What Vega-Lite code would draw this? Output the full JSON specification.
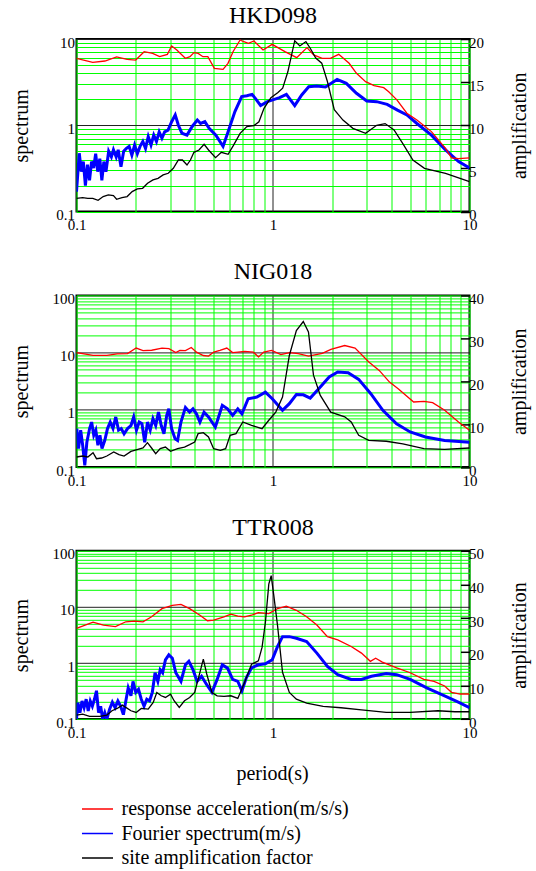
{
"$schema": "https://vega.github.io/schema/vega-lite/v6.json",
"padding": {"left": 9.5, "top": 3, "right": 5, "bottom": 5},
"background": "white",
"spacing": 83.4,
"bounds": "flush",
"datasets": {
"p1": [
{"s":"RA","p":0.1,"v":5.97},{"s":"RA","p":0.121,"v":5.37},{"s":"RA","p":0.1395,"v":5.56},{"s":"RA","p":0.16,"v":6.19},{"s":"RA","p":0.181,"v":5.81},{"s":"RA","p":0.2,"v":5.7},{"s":"RA","p":0.221,"v":7.13},{"s":"RA","p":0.244,"v":6.82},{"s":"RA","p":0.265,"v":6.24},{"s":"RA","p":0.29,"v":6.64},{"s":"RA","p":0.305,"v":8.3},{"s":"RA","p":0.324,"v":7.46},{"s":"RA","p":0.358,"v":5.97},{"s":"RA","p":0.378,"v":6.24},{"s":"RA","p":0.396,"v":6.95},{"s":"RA","p":0.416,"v":6.82},{"s":"RA","p":0.44,"v":6.24},{"s":"RA","p":0.466,"v":6.24},{"s":"RA","p":0.503,"v":4.57},{"s":"RA","p":0.557,"v":4.45},{"s":"RA","p":0.59,"v":5.23},{"s":"RA","p":0.626,"v":7.13},{"s":"RA","p":0.68,"v":9.73},{"s":"RA","p":0.71,"v":9.3},{"s":"RA","p":0.75,"v":8.9},{"s":"RA","p":0.8,"v":9.5},{"s":"RA","p":0.89,"v":7.46},{"s":"RA","p":0.99,"v":8.67},{"s":"RA","p":1.15,"v":7.13},{"s":"RA","p":1.32,"v":6.08},{"s":"RA","p":1.49,"v":7.94},{"s":"RA","p":1.61,"v":6.53},{"s":"RA","p":1.78,"v":5.97},{"s":"RA","p":1.96,"v":5.97},{"s":"RA","p":2.16,"v":6.64},{"s":"RA","p":2.44,"v":5.23},{"s":"RA","p":2.66,"v":4.0},{"s":"RA","p":2.96,"v":3.2},{"s":"RA","p":3.27,"v":2.88},{"s":"RA","p":3.66,"v":2.73},{"s":"RA","p":3.88,"v":2.45},{"s":"RA","p":4.27,"v":1.97},{"s":"RA","p":4.8,"v":1.38},{"s":"RA","p":5.4,"v":1.15},{"s":"RA","p":6.4,"v":0.845},{"s":"RA","p":7.55,"v":0.54},{"s":"RA","p":8.1,"v":0.42},{"s":"RA","p":8.8,"v":0.41},{"s":"RA","p":10,"v":0.42},
{"s":"FS","p":0.1,"v":0.17},{"s":"FS","p":0.1033,"v":0.474},{"s":"FS","p":0.1058,"v":0.29},{"s":"FS","p":0.1083,"v":0.38},{"s":"FS","p":0.111,"v":0.2},{"s":"FS","p":0.1137,"v":0.35},{"s":"FS","p":0.1165,"v":0.23},{"s":"FS","p":0.1193,"v":0.38},{"s":"FS","p":0.1222,"v":0.32},{"s":"FS","p":0.1252,"v":0.47},{"s":"FS","p":0.1282,"v":0.29},{"s":"FS","p":0.1314,"v":0.41},{"s":"FS","p":0.1346,"v":0.23},{"s":"FS","p":0.1378,"v":0.38},{"s":"FS","p":0.1412,"v":0.29},{"s":"FS","p":0.1458,"v":0.5},{"s":"FS","p":0.1505,"v":0.43},{"s":"FS","p":0.1542,"v":0.52},{"s":"FS","p":0.1592,"v":0.43},{"s":"FS","p":0.163,"v":0.52},{"s":"FS","p":0.1684,"v":0.33},{"s":"FS","p":0.1738,"v":0.5},{"s":"FS","p":0.1795,"v":0.54},{"s":"FS","p":0.1853,"v":0.57},{"s":"FS","p":0.1913,"v":0.45},{"s":"FS","p":0.1976,"v":0.59},{"s":"FS","p":0.204,"v":0.47},{"s":"FS","p":0.2106,"v":0.57},{"s":"FS","p":0.2175,"v":0.65},{"s":"FS","p":0.2245,"v":0.54},{"s":"FS","p":0.2318,"v":0.74},{"s":"FS","p":0.2394,"v":0.59},{"s":"FS","p":0.2472,"v":0.77},{"s":"FS","p":0.2552,"v":0.65},{"s":"FS","p":0.2635,"v":0.84},{"s":"FS","p":0.2721,"v":0.71},{"s":"FS","p":0.2809,"v":0.84},{"s":"FS","p":0.2923,"v":0.88},{"s":"FS","p":0.305,"v":1.1},{"s":"FS","p":0.318,"v":1.32},{"s":"FS","p":0.33,"v":1.0},{"s":"FS","p":0.344,"v":0.81},{"s":"FS","p":0.365,"v":0.77},{"s":"FS","p":0.388,"v":0.97},{"s":"FS","p":0.412,"v":1.15},{"s":"FS","p":0.428,"v":1.05},{"s":"FS","p":0.45,"v":1.1},{"s":"FS","p":0.473,"v":0.92},{"s":"FS","p":0.512,"v":0.77},{"s":"FS","p":0.557,"v":0.57},{"s":"FS","p":0.591,"v":0.84},{"s":"FS","p":0.64,"v":1.44},{"s":"FS","p":0.693,"v":2.15},{"s":"FS","p":0.736,"v":2.2},{"s":"FS","p":0.782,"v":2.28},{"s":"FS","p":0.813,"v":2.05},{"s":"FS","p":0.865,"v":1.69},{"s":"FS","p":0.937,"v":1.88},{"s":"FS","p":1.015,"v":2.0},{"s":"FS","p":1.08,"v":2.09},{"s":"FS","p":1.17,"v":2.28},{"s":"FS","p":1.29,"v":1.69},{"s":"FS","p":1.4,"v":2.25},{"s":"FS","p":1.52,"v":2.8},{"s":"FS","p":1.67,"v":2.85},{"s":"FS","p":1.85,"v":2.78},{"s":"FS","p":2.12,"v":3.4},{"s":"FS","p":2.36,"v":3.06},{"s":"FS","p":2.66,"v":2.35},{"s":"FS","p":3.0,"v":1.91},{"s":"FS","p":3.37,"v":1.88},{"s":"FS","p":3.81,"v":1.75},{"s":"FS","p":4.3,"v":1.5},{"s":"FS","p":4.8,"v":1.32},{"s":"FS","p":5.4,"v":1.05},{"s":"FS","p":6.4,"v":0.77},{"s":"FS","p":7.55,"v":0.52},{"s":"FS","p":8.8,"v":0.38},{"s":"FS","p":10,"v":0.32},
{"s":"SA","p":0.1,"v":1.54},{"s":"SA","p":0.1075,"v":1.62},{"s":"SA","p":0.1141,"v":1.54},{"s":"SA","p":0.121,"v":1.54},{"s":"SA","p":0.1288,"v":1.31},{"s":"SA","p":0.1367,"v":1.74},{"s":"SA","p":0.1452,"v":1.93},{"s":"SA","p":0.1542,"v":1.85},{"s":"SA","p":0.16,"v":1.43},{"s":"SA","p":0.1704,"v":1.62},{"s":"SA","p":0.181,"v":1.74},{"s":"SA","p":0.192,"v":2.32},{"s":"SA","p":0.204,"v":2.63},{"s":"SA","p":0.217,"v":2.7},{"s":"SA","p":0.23,"v":3.28},{"s":"SA","p":0.245,"v":3.67},{"s":"SA","p":0.26,"v":3.86},{"s":"SA","p":0.276,"v":4.25},{"s":"SA","p":0.293,"v":4.44},{"s":"SA","p":0.311,"v":5.02},{"s":"SA","p":0.33,"v":5.98},{"s":"SA","p":0.346,"v":5.98},{"s":"SA","p":0.365,"v":5.4},{"s":"SA","p":0.38,"v":5.98},{"s":"SA","p":0.396,"v":6.87},{"s":"SA","p":0.42,"v":7.14},{"s":"SA","p":0.446,"v":7.8},{"s":"SA","p":0.47,"v":7.14},{"s":"SA","p":0.51,"v":6.25},{"s":"SA","p":0.546,"v":6.87},{"s":"SA","p":0.591,"v":6.64},{"s":"SA","p":0.628,"v":7.64},{"s":"SA","p":0.68,"v":9.07},{"s":"SA","p":0.736,"v":9.85},{"s":"SA","p":0.799,"v":9.96},{"s":"SA","p":0.848,"v":10.4},{"s":"SA","p":0.9,"v":11.97},{"s":"SA","p":0.976,"v":13.2},{"s":"SA","p":1.06,"v":13.8},{"s":"SA","p":1.12,"v":14.3},{"s":"SA","p":1.19,"v":16.2},{"s":"SA","p":1.29,"v":19.8},{"s":"SA","p":1.37,"v":19.2},{"s":"SA","p":1.47,"v":19.7},{"s":"SA","p":1.55,"v":18.9},{"s":"SA","p":1.65,"v":17.8},{"s":"SA","p":1.77,"v":17.2},{"s":"SA","p":1.89,"v":15.1},{"s":"SA","p":2.05,"v":11.8},{"s":"SA","p":2.27,"v":10.6},{"s":"SA","p":2.55,"v":9.65},{"s":"SA","p":2.96,"v":9.07},{"s":"SA","p":3.37,"v":10.0},{"s":"SA","p":3.72,"v":10.2},{"s":"SA","p":4.13,"v":9.46},{"s":"SA","p":4.57,"v":7.9},{"s":"SA","p":5.15,"v":5.98},{"s":"SA","p":5.9,"v":5.02},{"s":"SA","p":7.55,"v":4.44},{"s":"SA","p":10,"v":3.47}
],
"p2": [
{"s":"RA","p":0.1,"v":9.95},{"s":"RA","p":0.1214,"v":8.94},{"s":"RA","p":0.1427,"v":8.94},{"s":"RA","p":0.1611,"v":9.5},{"s":"RA","p":0.1818,"v":9.6},{"s":"RA","p":0.2012,"v":12.0},{"s":"RA","p":0.218,"v":10.8},{"s":"RA","p":0.2413,"v":11.0},{"s":"RA","p":0.2724,"v":12.0},{"s":"RA","p":0.2953,"v":11.7},{"s":"RA","p":0.3201,"v":10.0},{"s":"RA","p":0.336,"v":10.9},{"s":"RA","p":0.3584,"v":10.8},{"s":"RA","p":0.3839,"v":12.3},{"s":"RA","p":0.4078,"v":10.2},{"s":"RA","p":0.442,"v":8.9},{"s":"RA","p":0.47,"v":8.7},{"s":"RA","p":0.499,"v":10.2},{"s":"RA","p":0.537,"v":10.9},{"s":"RA","p":0.582,"v":12.0},{"s":"RA","p":0.623,"v":10.0},{"s":"RA","p":0.662,"v":10.2},{"s":"RA","p":0.718,"v":10.5},{"s":"RA","p":0.794,"v":10.2},{"s":"RA","p":0.844,"v":8.4},{"s":"RA","p":0.897,"v":10.2},{"s":"RA","p":0.984,"v":10.9},{"s":"RA","p":1.097,"v":9.2},{"s":"RA","p":1.214,"v":10.0},{"s":"RA","p":1.343,"v":9.6},{"s":"RA","p":1.516,"v":8.7},{"s":"RA","p":1.782,"v":9.7},{"s":"RA","p":1.971,"v":11.4},{"s":"RA","p":2.317,"v":13.3},{"s":"RA","p":2.616,"v":12.0},{"s":"RA","p":3.074,"v":6.84},{"s":"RA","p":3.471,"v":4.89},{"s":"RA","p":3.917,"v":3.05},{"s":"RA","p":4.335,"v":2.34},{"s":"RA","p":5.197,"v":1.37},{"s":"RA","p":5.867,"v":1.4},{"s":"RA","p":6.49,"v":1.33},{"s":"RA","p":7.477,"v":0.98},{"s":"RA","p":8.79,"v":0.61},{"s":"RA","p":10,"v":0.44},
{"s":"FS","p":0.1004,"v":0.47},{"s":"FS","p":0.1024,"v":0.21},{"s":"FS","p":0.105,"v":0.44},{"s":"FS","p":0.1075,"v":0.24},{"s":"FS","p":0.1102,"v":0.107},{"s":"FS","p":0.1129,"v":0.27},{"s":"FS","p":0.1166,"v":0.47},{"s":"FS","p":0.1194,"v":0.61},{"s":"FS","p":0.1224,"v":0.36},{"s":"FS","p":0.1254,"v":0.44},{"s":"FS","p":0.1285,"v":0.24},{"s":"FS","p":0.1316,"v":0.36},{"s":"FS","p":0.1348,"v":0.21},{"s":"FS","p":0.1392,"v":0.29},{"s":"FS","p":0.1438,"v":0.47},{"s":"FS","p":0.1485,"v":0.61},{"s":"FS","p":0.1534,"v":0.47},{"s":"FS","p":0.1584,"v":0.75},{"s":"FS","p":0.1637,"v":0.44},{"s":"FS","p":0.169,"v":0.47},{"s":"FS","p":0.1746,"v":0.38},{"s":"FS","p":0.1818,"v":0.47},{"s":"FS","p":0.1893,"v":0.53},{"s":"FS","p":0.1955,"v":0.75},{"s":"FS","p":0.2019,"v":0.44},{"s":"FS","p":0.2085,"v":0.61},{"s":"FS","p":0.2153,"v":0.57},{"s":"FS","p":0.2224,"v":0.27},{"s":"FS","p":0.2297,"v":0.61},{"s":"FS","p":0.2372,"v":0.44},{"s":"FS","p":0.245,"v":0.7},{"s":"FS","p":0.253,"v":0.53},{"s":"FS","p":0.2613,"v":0.91},{"s":"FS","p":0.2699,"v":0.53},{"s":"FS","p":0.2787,"v":0.38},{"s":"FS","p":0.2879,"v":0.8},{"s":"FS","p":0.295,"v":1.04},{"s":"FS","p":0.3047,"v":0.47},{"s":"FS","p":0.3176,"v":0.31},{"s":"FS","p":0.3269,"v":0.29},{"s":"FS","p":0.3401,"v":0.61},{"s":"FS","p":0.3584,"v":1.1},{"s":"FS","p":0.3764,"v":0.91},{"s":"FS","p":0.3915,"v":1.04},{"s":"FS","p":0.4078,"v":0.85},{"s":"FS","p":0.4247,"v":0.61},{"s":"FS","p":0.4457,"v":0.91},{"s":"FS","p":0.4696,"v":0.75},{"s":"FS","p":0.5088,"v":0.5},{"s":"FS","p":0.5521,"v":1.2},{"s":"FS","p":0.5867,"v":1.04},{"s":"FS","p":0.6233,"v":0.8},{"s":"FS","p":0.6621,"v":1.04},{"s":"FS","p":0.6948,"v":0.85},{"s":"FS","p":0.7475,"v":1.56},{"s":"FS","p":0.827,"v":1.67},{"s":"FS","p":0.9148,"v":2.04},{"s":"FS","p":0.9912,"v":1.56},{"s":"FS","p":1.118,"v":0.98},{"s":"FS","p":1.211,"v":1.28},{"s":"FS","p":1.315,"v":1.85},{"s":"FS","p":1.426,"v":1.83},{"s":"FS","p":1.547,"v":1.6},{"s":"FS","p":1.709,"v":2.34},{"s":"FS","p":1.932,"v":3.74},{"s":"FS","p":2.135,"v":4.57},{"s":"FS","p":2.412,"v":4.44},{"s":"FS","p":2.73,"v":3.4},{"s":"FS","p":3.145,"v":1.91},{"s":"FS","p":3.623,"v":0.98},{"s":"FS","p":4.255,"v":0.57},{"s":"FS","p":4.99,"v":0.41},{"s":"FS","p":5.97,"v":0.335},{"s":"FS","p":7.47,"v":0.29},{"s":"FS","p":10,"v":0.27},
{"s":"SA","p":0.1,"v":2.33},{"s":"SA","p":0.1075,"v":2.56},{"s":"SA","p":0.1142,"v":2.33},{"s":"SA","p":0.1214,"v":3.34},{"s":"SA","p":0.1264,"v":1.94},{"s":"SA","p":0.1343,"v":2.1},{"s":"SA","p":0.1427,"v":2.56},{"s":"SA","p":0.1547,"v":3.5},{"s":"SA","p":0.1644,"v":2.87},{"s":"SA","p":0.1746,"v":2.56},{"s":"SA","p":0.1893,"v":3.65},{"s":"SA","p":0.2054,"v":4.12},{"s":"SA","p":0.218,"v":4.43},{"s":"SA","p":0.2297,"v":5.67},{"s":"SA","p":0.241,"v":4.43},{"s":"SA","p":0.253,"v":3.1},{"s":"SA","p":0.2667,"v":4.27},{"s":"SA","p":0.2835,"v":4.66},{"s":"SA","p":0.301,"v":3.65},{"s":"SA","p":0.3269,"v":4.27},{"s":"SA","p":0.3545,"v":4.66},{"s":"SA","p":0.3764,"v":5.2},{"s":"SA","p":0.3995,"v":5.83},{"s":"SA","p":0.4157,"v":7.77},{"s":"SA","p":0.442,"v":8.0},{"s":"SA","p":0.4696,"v":7.0},{"s":"SA","p":0.4986,"v":4.27},{"s":"SA","p":0.5395,"v":3.88},{"s":"SA","p":0.5741,"v":4.27},{"s":"SA","p":0.605,"v":7.38},{"s":"SA","p":0.6482,"v":7.77},{"s":"SA","p":0.7021,"v":10.5},{"s":"SA","p":0.7777,"v":9.7},{"s":"SA","p":0.8795,"v":8.93},{"s":"SA","p":0.9519,"v":10.9},{"s":"SA","p":1.033,"v":12.8},{"s":"SA","p":1.118,"v":16.3},{"s":"SA","p":1.211,"v":26.0},{"s":"SA","p":1.315,"v":31.8},{"s":"SA","p":1.426,"v":33.9},{"s":"SA","p":1.515,"v":31.5},{"s":"SA","p":1.607,"v":21.4},{"s":"SA","p":1.741,"v":16.7},{"s":"SA","p":1.967,"v":12.8},{"s":"SA","p":2.317,"v":11.7},{"s":"SA","p":2.5,"v":10.5},{"s":"SA","p":2.73,"v":7.4},{"s":"SA","p":3.07,"v":6.2},{"s":"SA","p":3.77,"v":6.0},{"s":"SA","p":4.58,"v":5.4},{"s":"SA","p":5.86,"v":4.27},{"s":"SA","p":7.47,"v":4.12},{"s":"SA","p":10,"v":4.43}
],
"p3": [
{"s":"RA","p":0.1,"v":4.15},{"s":"RA","p":0.1214,"v":5.36},{"s":"RA","p":0.137,"v":4.75},{"s":"RA","p":0.1579,"v":4.44},{"s":"RA","p":0.1782,"v":5.43},{"s":"RA","p":0.1971,"v":5.58},{"s":"RA","p":0.218,"v":5.43},{"s":"RA","p":0.241,"v":6.66},{"s":"RA","p":0.2722,"v":9.3},{"s":"RA","p":0.3074,"v":10.6},{"s":"RA","p":0.3401,"v":11.1},{"s":"RA","p":0.3764,"v":9.3},{"s":"RA","p":0.4247,"v":7.1},{"s":"RA","p":0.4642,"v":5.66},{"s":"RA","p":0.4986,"v":5.8},{"s":"RA","p":0.5632,"v":6.66},{"s":"RA","p":0.6104,"v":7.42},{"s":"RA","p":0.6621,"v":6.85},{"s":"RA","p":0.7165,"v":6.66},{"s":"RA","p":0.7777,"v":7.1},{"s":"RA","p":0.8423,"v":7.93},{"s":"RA","p":0.9519,"v":7.6},{"s":"RA","p":1.055,"v":9.35},{"s":"RA","p":1.169,"v":10.3},{"s":"RA","p":1.315,"v":8.7},{"s":"RA","p":1.483,"v":6.66},{"s":"RA","p":1.672,"v":4.75},{"s":"RA","p":1.892,"v":2.95},{"s":"RA","p":2.135,"v":2.58},{"s":"RA","p":2.5,"v":1.97},{"s":"RA","p":2.82,"v":1.5},{"s":"RA","p":3.13,"v":1.07},{"s":"RA","p":3.33,"v":1.22},{"s":"RA","p":3.6,"v":1.04},{"s":"RA","p":4.26,"v":0.82},{"s":"RA","p":4.99,"v":0.67},{"s":"RA","p":5.86,"v":0.51},{"s":"RA","p":6.6,"v":0.47},{"s":"RA","p":7.47,"v":0.39},{"s":"RA","p":8.1,"v":0.3},{"s":"RA","p":8.96,"v":0.28},{"s":"RA","p":10,"v":0.28},
{"s":"FS","p":0.1,"v":0.1},{"s":"FS","p":0.1016,"v":0.197},{"s":"FS","p":0.1041,"v":0.13},{"s":"FS","p":0.1067,"v":0.21},{"s":"FS","p":0.1093,"v":0.16},{"s":"FS","p":0.112,"v":0.226},{"s":"FS","p":0.1147,"v":0.14},{"s":"FS","p":0.1175,"v":0.21},{"s":"FS","p":0.1204,"v":0.17},{"s":"FS","p":0.1234,"v":0.226},{"s":"FS","p":0.1264,"v":0.32},{"s":"FS","p":0.1295,"v":0.13},{"s":"FS","p":0.1327,"v":0.17},{"s":"FS","p":0.1359,"v":0.1},{"s":"FS","p":0.1393,"v":0.13},{"s":"FS","p":0.1427,"v":0.1},{"s":"FS","p":0.1474,"v":0.15},{"s":"FS","p":0.1522,"v":0.2},{"s":"FS","p":0.1572,"v":0.16},{"s":"FS","p":0.1624,"v":0.21},{"s":"FS","p":0.1677,"v":0.17},{"s":"FS","p":0.1732,"v":0.12},{"s":"FS","p":0.1789,"v":0.226},{"s":"FS","p":0.1833,"v":0.36},{"s":"FS","p":0.1893,"v":0.26},{"s":"FS","p":0.1939,"v":0.47},{"s":"FS","p":0.2003,"v":0.3},{"s":"FS","p":0.2068,"v":0.34},{"s":"FS","p":0.2136,"v":0.226},{"s":"FS","p":0.2207,"v":0.17},{"s":"FS","p":0.2279,"v":0.226},{"s":"FS","p":0.2354,"v":0.21},{"s":"FS","p":0.2431,"v":0.3},{"s":"FS","p":0.2511,"v":0.67},{"s":"FS","p":0.2594,"v":0.47},{"s":"FS","p":0.2667,"v":0.76},{"s":"FS","p":0.2743,"v":0.67},{"s":"FS","p":0.2835,"v":1.14},{"s":"FS","p":0.295,"v":1.4},{"s":"FS","p":0.3074,"v":1.22},{"s":"FS","p":0.3201,"v":0.67},{"s":"FS","p":0.3401,"v":0.47},{"s":"FS","p":0.3584,"v":0.93},{"s":"FS","p":0.373,"v":1.07},{"s":"FS","p":0.3915,"v":0.76},{"s":"FS","p":0.411,"v":0.47},{"s":"FS","p":0.4328,"v":0.58},{"s":"FS","p":0.46,"v":0.41},{"s":"FS","p":0.489,"v":0.3},{"s":"FS","p":0.5196,"v":0.51},{"s":"FS","p":0.5521,"v":0.93},{"s":"FS","p":0.5867,"v":0.81},{"s":"FS","p":0.6233,"v":0.51},{"s":"FS","p":0.6621,"v":0.47},{"s":"FS","p":0.6948,"v":0.32},{"s":"FS","p":0.7306,"v":0.54},{"s":"FS","p":0.7777,"v":0.82},{"s":"FS","p":0.8423,"v":0.93},{"s":"FS","p":0.9148,"v":0.97},{"s":"FS","p":0.9912,"v":1.14},{"s":"FS","p":1.055,"v":1.97},{"s":"FS","p":1.118,"v":2.95},{"s":"FS","p":1.211,"v":2.95},{"s":"FS","p":1.315,"v":2.76},{"s":"FS","p":1.483,"v":2.41},{"s":"FS","p":1.672,"v":1.5},{"s":"FS","p":1.892,"v":0.87},{"s":"FS","p":2.135,"v":0.62},{"s":"FS","p":2.5,"v":0.51},{"s":"FS","p":2.82,"v":0.51},{"s":"FS","p":3.17,"v":0.58},{"s":"FS","p":3.77,"v":0.65},{"s":"FS","p":4.26,"v":0.62},{"s":"FS","p":4.99,"v":0.51},{"s":"FS","p":6.06,"v":0.36},{"s":"FS","p":7.47,"v":0.26},{"s":"FS","p":8.77,"v":0.2},{"s":"FS","p":10,"v":0.16},
{"s":"SA","p":0.1,"v":1.19},{"s":"SA","p":0.1075,"v":1.49},{"s":"SA","p":0.1166,"v":0.79},{"s":"SA","p":0.1316,"v":0.79},{"s":"SA","p":0.1427,"v":1.19},{"s":"SA","p":0.1516,"v":2.48},{"s":"SA","p":0.1611,"v":3.17},{"s":"SA","p":0.1712,"v":4.16},{"s":"SA","p":0.1782,"v":3.47},{"s":"SA","p":0.1893,"v":2.48},{"s":"SA","p":0.2012,"v":1.98},{"s":"SA","p":0.2136,"v":3.17},{"s":"SA","p":0.2317,"v":2.97},{"s":"SA","p":0.2457,"v":4.95},{"s":"SA","p":0.2562,"v":7.9},{"s":"SA","p":0.2699,"v":6.93},{"s":"SA","p":0.2835,"v":6.44},{"s":"SA","p":0.301,"v":7.43},{"s":"SA","p":0.3138,"v":5.45},{"s":"SA","p":0.3333,"v":3.47},{"s":"SA","p":0.3545,"v":5.45},{"s":"SA","p":0.3764,"v":6.44},{"s":"SA","p":0.3995,"v":7.9},{"s":"SA","p":0.4247,"v":13.9},{"s":"SA","p":0.442,"v":17.8},{"s":"SA","p":0.46,"v":13.4},{"s":"SA","p":0.489,"v":7.9},{"s":"SA","p":0.5196,"v":6.93},{"s":"SA","p":0.5632,"v":6.73},{"s":"SA","p":0.6104,"v":6.93},{"s":"SA","p":0.6621,"v":6.14},{"s":"SA","p":0.7165,"v":10.9},{"s":"SA","p":0.7777,"v":16.3},{"s":"SA","p":0.8423,"v":17.3},{"s":"SA","p":0.8795,"v":21.3},{"s":"SA","p":0.9148,"v":28.7},{"s":"SA","p":0.9519,"v":40.1},{"s":"SA","p":0.979,"v":42.6},{"s":"SA","p":1.01,"v":36.6},{"s":"SA","p":1.055,"v":27.7},{"s":"SA","p":1.118,"v":13.9},{"s":"SA","p":1.211,"v":7.9},{"s":"SA","p":1.315,"v":5.94},{"s":"SA","p":1.483,"v":4.75},{"s":"SA","p":1.8,"v":3.76},{"s":"SA","p":2.22,"v":3.37},{"s":"SA","p":2.82,"v":2.77},{"s":"SA","p":3.77,"v":1.98},{"s":"SA","p":4.99,"v":1.98},{"s":"SA","p":6.91,"v":2.48},{"s":"SA","p":8.43,"v":2.18},{"s":"SA","p":10,"v":2.18}
]
},
"vconcat": [
{
"title": {"text": "HKD098"},
"width": 393, "height": 172.6,
"data": {"name": "p1"},
"layer": [
{"layer": [
{"transform": [{"filter": "datum.s=='FS'"}], "mark": {"type": "line", "strokeWidth": 3, "clip": true},
"encoding": {
"x": {"field": "p", "type": "quantitative", "scale": {"type": "log", "domain": [0.1, 10]}, "axis": {"values": [0.1,0.2,0.3,0.4,0.5,0.6,0.7,0.8,0.9,1,2,3,4,5,6,7,8,9,10], "grid": true, "gridColor": {"condition": {"test": "datum.value==1", "value": "#222222"}, "value": "#00ff00"}, "ticks": false, "domain": false, "labelExpr": "datum.value==0.1?'0.1':datum.value==1?'1':datum.value==10?'10':''", "labelFont": "Liberation Serif", "labelFontSize": 15, "labelFlush": false, "labelOverlap": false, "labelPadding": 6, "labelBaseline": "top", "title": null}},
"y": {"field": "v", "type": "quantitative", "scale": {"type": "log", "domain": [0.1, 10]}, "axis": {"orient": "left", "values": [0.1,0.2,0.3,0.4,0.5,0.6,0.7,0.8,0.9,1,2,3,4,5,6,7,8,9,10], "grid": true, "gridColor": {"condition": {"test": "datum.value==1||datum.value==10", "value": "#222222"}, "value": "#00ff00"}, "ticks": false, "domain": false, "labelExpr": "datum.value==0.1?'0.1':datum.value==1?'1':datum.value==10?'10':''", "labelFont": "Liberation Serif", "labelFontSize": 15, "labelFlush": false, "labelOverlap": false, "labelPadding": 2, "labelBaseline": "middle", "labelOffset": 3, "title": "spectrum", "titleFont": "Liberation Serif", "titleX": -55.5, "titleY": 86.3, "titleAngle": 270, "titleBaseline": "middle", "titleAlign": "center"}},
"color": {"field": "s", "type": "nominal", "scale": {"domain": ["RA", "FS", "SA"], "range": ["#ff0000", "#0000ff", "#000000"]}, "legend": {"title": null, "labelExpr": "datum.label=='RA'?'response acceleration(m/s/s)':datum.label=='FS'?'Fourier spectrum(m/s)':'site amplification factor'", "orient": "none", "legendX": 11, "legendY": 760}}
}},
{"transform": [{"filter": "datum.s=='RA'"}], "mark": {"type": "line", "strokeWidth": 1.3, "clip": true},
"encoding": {
"x": {"field": "p", "type": "quantitative", "scale": {"type": "log", "domain": [0.1, 10]}},
"y": {"field": "v", "type": "quantitative", "scale": {"type": "log", "domain": [0.1, 10]}},
"color": {"field": "s", "type": "nominal"}
}}
]},
{"transform": [{"filter": "datum.s=='SA'"}], "mark": {"type": "line", "strokeWidth": 1.3, "clip": true},
"encoding": {
"x": {"field": "p", "type": "quantitative", "scale": {"type": "log", "domain": [0.1, 10]}},
"y": {"field": "v", "type": "quantitative", "scale": {"domain": [0, 20]}, "axis": {"orient": "right", "values": [0,5,10,15,20], "grid": false, "ticks": true, "tickSize": -9, "tickColor": "#000000", "tickWidth": 1.5, "domain": false, "labelFont": "Liberation Serif", "labelFontSize": 15, "labelFlush": false, "labelOverlap": false, "labelPadding": 8, "labelOffset": 3, "labelBaseline": "middle", "title": "amplification", "titleFont": "Liberation Serif", "titleX": 50, "titleY": 86.3, "titleAngle": 270, "titleBaseline": "middle", "titleAlign": "center"}},
"color": {"field": "s", "type": "nominal"}
}}
],
"resolve": {"scale": {"y": "independent"}, "axis": {"y": "independent"}}
},
{
"title": {"text": "NIG018"},
"width": 393, "height": 171.6,
"data": {"name": "p2"},
"layer": [
{"layer": [
{"transform": [{"filter": "datum.s=='FS'"}], "mark": {"type": "line", "strokeWidth": 3, "clip": true},
"encoding": {
"x": {"field": "p", "type": "quantitative", "scale": {"type": "log", "domain": [0.1, 10]}, "axis": {"values": [0.1,0.2,0.3,0.4,0.5,0.6,0.7,0.8,0.9,1,2,3,4,5,6,7,8,9,10], "grid": true, "gridColor": {"condition": {"test": "datum.value==1", "value": "#222222"}, "value": "#00ff00"}, "ticks": false, "domain": false, "labelExpr": "datum.value==0.1?'0.1':datum.value==1?'1':datum.value==10?'10':''", "labelFont": "Liberation Serif", "labelFontSize": 15, "labelFlush": false, "labelOverlap": false, "labelPadding": 6, "labelBaseline": "top", "title": null}},
"y": {"field": "v", "type": "quantitative", "scale": {"type": "log", "domain": [0.1, 100]}, "axis": {"orient": "left", "values": [0.1,0.2,0.3,0.4,0.5,0.6,0.7,0.8,0.9,1,2,3,4,5,6,7,8,9,10,20,30,40,50,60,70,80,90,100], "grid": true, "gridColor": {"condition": {"test": "datum.value==1||datum.value==10", "value": "#222222"}, "value": "#00ff00"}, "ticks": false, "domain": false, "labelExpr": "datum.value==0.1?'0.1':datum.value==1?'1':datum.value==10?'10':datum.value==100?'100':''", "labelFont": "Liberation Serif", "labelFontSize": 15, "labelFlush": false, "labelOverlap": false, "labelPadding": 2, "labelBaseline": "middle", "labelOffset": 3, "title": "spectrum", "titleFont": "Liberation Serif", "titleX": -55.5, "titleY": 85.8, "titleAngle": 270, "titleBaseline": "middle", "titleAlign": "center"}},
"color": {"field": "s", "type": "nominal"}
}},
{"transform": [{"filter": "datum.s=='RA'"}], "mark": {"type": "line", "strokeWidth": 1.3, "clip": true},
"encoding": {
"x": {"field": "p", "type": "quantitative", "scale": {"type": "log", "domain": [0.1, 10]}},
"y": {"field": "v", "type": "quantitative", "scale": {"type": "log", "domain": [0.1, 100]}},
"color": {"field": "s", "type": "nominal"}
}}
]},
{"transform": [{"filter": "datum.s=='SA'"}], "mark": {"type": "line", "strokeWidth": 1.3, "clip": true},
"encoding": {
"x": {"field": "p", "type": "quantitative", "scale": {"type": "log", "domain": [0.1, 10]}},
"y": {"field": "v", "type": "quantitative", "scale": {"domain": [0, 40]}, "axis": {"orient": "right", "values": [0,10,20,30,40], "grid": false, "ticks": true, "tickSize": -9, "tickColor": "#000000", "tickWidth": 1.5, "domain": false, "labelFont": "Liberation Serif", "labelFontSize": 15, "labelFlush": false, "labelOverlap": false, "labelPadding": 8, "labelOffset": 3, "labelBaseline": "middle", "title": "amplification", "titleFont": "Liberation Serif", "titleX": 50, "titleY": 85.8, "titleAngle": 270, "titleBaseline": "middle", "titleAlign": "center"}},
"color": {"field": "s", "type": "nominal"}
}}
],
"resolve": {"scale": {"y": "independent"}, "axis": {"y": "independent"}}
},
{
"title": {"text": "TTR008"},
"width": 393, "height": 168.3,
"data": {"name": "p3"},
"layer": [
{"layer": [
{"transform": [{"filter": "datum.s=='FS'"}], "mark": {"type": "line", "strokeWidth": 3, "clip": true},
"encoding": {
"x": {"field": "p", "type": "quantitative", "scale": {"type": "log", "domain": [0.1, 10]}, "axis": {"values": [0.1,0.2,0.3,0.4,0.5,0.6,0.7,0.8,0.9,1,2,3,4,5,6,7,8,9,10], "grid": true, "gridColor": {"condition": {"test": "datum.value==1", "value": "#222222"}, "value": "#00ff00"}, "ticks": false, "domain": false, "labelExpr": "datum.value==0.1?'0.1':datum.value==1?'1':datum.value==10?'10':''", "labelFont": "Liberation Serif", "labelFontSize": 15, "labelFlush": false, "labelOverlap": false, "labelPadding": 6, "labelBaseline": "top", "title": "period(s)", "titleFont": "Liberation Serif", "titleX": 195.5, "titleY": 54, "titleBaseline": "middle", "titleAlign": "center"}},
"y": {"field": "v", "type": "quantitative", "scale": {"type": "log", "domain": [0.1, 100]}, "axis": {"orient": "left", "values": [0.1,0.2,0.3,0.4,0.5,0.6,0.7,0.8,0.9,1,2,3,4,5,6,7,8,9,10,20,30,40,50,60,70,80,90,100], "grid": true, "gridColor": {"condition": {"test": "datum.value==1||datum.value==10", "value": "#222222"}, "value": "#00ff00"}, "ticks": false, "domain": false, "labelExpr": "datum.value==0.1?'0.1':datum.value==1?'1':datum.value==10?'10':datum.value==100?'100':''", "labelFont": "Liberation Serif", "labelFontSize": 15, "labelFlush": false, "labelOverlap": false, "labelPadding": 2, "labelBaseline": "middle", "labelOffset": 3, "title": "spectrum", "titleFont": "Liberation Serif", "titleX": -55.5, "titleY": 84.2, "titleAngle": 270, "titleBaseline": "middle", "titleAlign": "center"}},
"color": {"field": "s", "type": "nominal"}
}},
{"transform": [{"filter": "datum.s=='RA'"}], "mark": {"type": "line", "strokeWidth": 1.3, "clip": true},
"encoding": {
"x": {"field": "p", "type": "quantitative", "scale": {"type": "log", "domain": [0.1, 10]}},
"y": {"field": "v", "type": "quantitative", "scale": {"type": "log", "domain": [0.1, 100]}},
"color": {"field": "s", "type": "nominal"}
}}
]},
{"transform": [{"filter": "datum.s=='SA'"}], "mark": {"type": "line", "strokeWidth": 1.3, "clip": true},
"encoding": {
"x": {"field": "p", "type": "quantitative", "scale": {"type": "log", "domain": [0.1, 10]}},
"y": {"field": "v", "type": "quantitative", "scale": {"domain": [0, 50]}, "axis": {"orient": "right", "values": [0,10,20,30,40,50], "grid": false, "ticks": true, "tickSize": -9, "tickColor": "#000000", "tickWidth": 1.5, "domain": false, "labelFont": "Liberation Serif", "labelFontSize": 15, "labelFlush": false, "labelOverlap": false, "labelPadding": 8, "labelOffset": 3, "labelBaseline": "middle", "title": "amplification", "titleFont": "Liberation Serif", "titleX": 50, "titleY": 84.2, "titleAngle": 270, "titleBaseline": "middle", "titleAlign": "center"}},
"color": {"field": "s", "type": "nominal"}
}}
],
"resolve": {"scale": {"y": "independent"}, "axis": {"y": "independent"}}
}
],
"config": {
"font": "Liberation Serif",
"view": {"stroke": "#000000", "strokeWidth": 2},
"style": {"guide-label": {"font": "Liberation Serif"}, "guide-title": {"font": "Liberation Serif"}, "group-title": {"font": "Liberation Serif"}},
"axis": {"labelFont": "Liberation Serif", "labelFontSize": 15, "labelColor": "#000000", "titleFont": "Liberation Serif", "titleFontSize": 20, "titleFontWeight": "normal", "titleColor": "#000000", "gridOpacity": 1, "gridWidth": 1},
"title": {"font": "Liberation Serif", "fontSize": 24, "fontWeight": "normal", "color": "#000000", "offset": 7, "baseline": "alphabetic", "frame": "group", "anchor": "middle"},
"legend": {"symbolType": "M-2.07,0H2.07", "symbolSize": 225, "symbolStrokeWidth": 1.5, "labelFont": "Liberation Serif", "labelFontSize": 20, "labelColor": "#000000", "labelLimit": 400, "labelOffset": 14, "rowPadding": 4.5, "padding": 0}
}
}
